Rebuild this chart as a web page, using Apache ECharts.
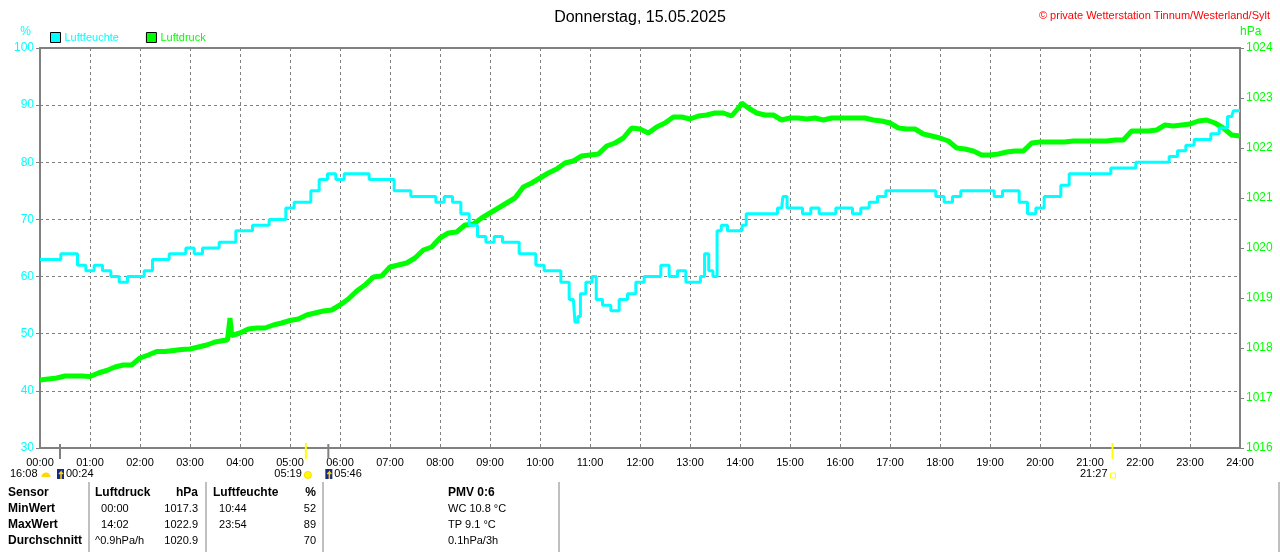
<!DOCTYPE html>
<html lang="de">
<head>
    <meta charset="UTF-8">
    <title>Luftfeuchte / Luftdruck 15.05.2025</title>
    <style>
        html, body { margin: 0; padding: 0; background: #fff; }
        #chart { width: 1280px; height: 552px; }
    </style>
</head>
<body>
<div id="chart"></div>

<script src="https://cdn.jsdelivr.net/npm/echarts@6/dist/echarts.min.js"></script>
<script>
    // Luftfeuchte (%)
    var humTimes = [
        '00:00','00:10','00:20','00:30','00:40','00:50','01:00','01:10','01:20','01:30','01:40','01:50',
        '02:00','02:10','02:20','02:30','02:40','02:50','03:00','03:10','03:20','03:30','03:40','03:50',
        '04:00','04:10','04:20','04:30','04:40','04:50','05:00','05:10','05:20','05:30','05:40','05:50',
        '06:00','06:10','06:20','06:30','06:40','06:50','07:00','07:10','07:20','07:30','07:40','07:50',
        '08:00','08:10','08:20','08:30','08:40','08:50','09:00','09:10','09:20','09:30','09:40','09:50',
        '10:00','10:10','10:20','10:30','10:40','10:44','10:47','10:50','11:00','11:05','11:10','11:20',
        '11:30','11:40','11:50','12:00','12:10','12:20','12:30','12:40','12:50','13:00','13:10','13:15',
        '13:20','13:25','13:30','13:35','13:40','13:50','14:00','14:05','14:10','14:20','14:30','14:40',
        '14:50','14:53','15:00','15:10','15:20','15:30','15:40','15:50','16:00','16:10','16:20','16:30',
        '16:40','16:50','17:00','17:10','17:20','17:30','17:40','17:50','18:00','18:10','18:20','18:30',
        '18:40','18:50','19:00','19:10','19:20','19:30','19:40','19:50','20:00','20:10','20:20','20:30',
        '20:40','20:50','21:00','21:10','21:20','21:30','21:40','21:50','22:00','22:10','22:20','22:30',
        '22:40','22:50','23:00','23:10','23:20','23:30','23:40','23:50','23:54','24:00'
    ];
    var humValues = [
        63, 63, 63, 64, 64, 62, 61, 62, 61, 60, 59, 60,
        60, 61, 63, 63, 64, 64, 65, 64, 65, 65, 66, 66,
        68, 68, 69, 69, 70, 70, 72, 73, 73, 75, 77, 78,
        77, 78, 78, 78, 77, 77, 77, 75, 75, 74, 74, 74,
        73, 74, 73, 71, 69, 67, 66, 67, 66, 66, 64, 64,
        62, 61, 61, 59, 56, 52, 53, 57, 59, 60, 56, 55,
        54, 56, 57, 59, 60, 60, 62, 60, 61, 59, 59, 60,
        64, 61, 60, 68, 69, 68, 68, 69, 71, 71, 71, 71,
        72, 74, 72, 72, 71, 72, 71, 71, 72, 72, 71, 72,
        73, 74, 75, 75, 75, 75, 75, 75, 74, 73, 74, 75,
        75, 75, 75, 74, 75, 75, 73, 71, 72, 74, 74, 76,
        78, 78, 78, 78, 78, 79, 79, 79, 80, 80, 80, 80,
        81, 82, 83, 84, 84, 85, 86, 88, 89, 89
    ];

    // Luftdruck (hPa)
    var presTimes = [
        '00:00','00:10','00:20','00:30','00:40','00:50','01:00','01:10','01:20','01:30','01:40','01:50',
        '02:00','02:10','02:20','02:30','02:40','02:50','03:00','03:10','03:20','03:30','03:40','03:45',
        '03:48','03:50','04:00','04:10','04:20','04:30','04:40','04:50','05:00','05:10','05:20','05:30',
        '05:40','05:50','06:00','06:10','06:20','06:30','06:40','06:50','07:00','07:10','07:20','07:30',
        '07:40','07:50','08:00','08:10','08:20','08:30','08:40','08:50','09:00','09:10','09:20','09:30',
        '09:40','09:50','10:00','10:10','10:20','10:30','10:40','10:50','11:00','11:10','11:20','11:30',
        '11:40','11:50','12:00','12:10','12:20','12:30','12:40','12:50','13:00','13:10','13:20','13:30',
        '13:40','13:50','14:00','14:02','14:10','14:20','14:30','14:40','14:50','15:00','15:10','15:20',
        '15:30','15:40','15:50','16:00','16:10','16:20','16:30','16:40','16:50','17:00','17:10','17:20',
        '17:30','17:40','17:50','18:00','18:10','18:20','18:30','18:40','18:50','19:00','19:10','19:20',
        '19:30','19:40','19:50','20:00','20:10','20:20','20:30','20:40','20:50','21:00','21:10','21:20',
        '21:30','21:40','21:50','22:00','22:10','22:20','22:30','22:40','22:50','23:00','23:10','23:20',
        '23:30','23:40','23:50','24:00'
    ];
    var presValues = [
        1017.36, 1017.38, 1017.40, 1017.44, 1017.44, 1017.44, 1017.43, 1017.50, 1017.55, 1017.62, 1017.66, 1017.66,
        1017.80, 1017.86, 1017.93, 1017.93, 1017.95, 1017.97, 1017.98, 1018.02, 1018.06, 1018.12, 1018.15, 1018.16,
        1018.60, 1018.25, 1018.30, 1018.38, 1018.40, 1018.40, 1018.46, 1018.50, 1018.55, 1018.58, 1018.66, 1018.70,
        1018.74, 1018.76, 1018.86, 1018.98, 1019.14, 1019.26, 1019.42, 1019.44, 1019.62, 1019.66, 1019.70, 1019.80,
        1019.96, 1020.02, 1020.20, 1020.30, 1020.32, 1020.46, 1020.48, 1020.60, 1020.70, 1020.80, 1020.90, 1021.00,
        1021.22, 1021.30, 1021.40, 1021.50, 1021.58, 1021.70, 1021.74, 1021.84, 1021.86, 1021.88, 1022.04, 1022.10,
        1022.20, 1022.40, 1022.38, 1022.30, 1022.42, 1022.50, 1022.62, 1022.62, 1022.58, 1022.64, 1022.66, 1022.70,
        1022.70, 1022.64, 1022.84, 1022.90, 1022.80, 1022.70, 1022.66, 1022.66, 1022.56, 1022.60, 1022.60, 1022.58,
        1022.60, 1022.56, 1022.60, 1022.60, 1022.60, 1022.60, 1022.60, 1022.56, 1022.54, 1022.50, 1022.40, 1022.38,
        1022.38, 1022.28, 1022.24, 1022.20, 1022.14, 1022.00, 1021.98, 1021.94, 1021.86, 1021.86, 1021.88, 1021.92,
        1021.94, 1021.94, 1022.10, 1022.12, 1022.12, 1022.12, 1022.12, 1022.14, 1022.14, 1022.14, 1022.14, 1022.14,
        1022.16, 1022.16, 1022.34, 1022.34, 1022.34, 1022.36, 1022.46, 1022.44, 1022.46, 1022.48, 1022.54, 1022.56,
        1022.50, 1022.40, 1022.26, 1022.24
    ];

    // Sonne / Mond unter der Zeitachse
    var sunTimes = ['05:19', '21:27'];
    var moonTimes = ['00:24', '05:46'];

    // Tabelle unten
    var tableRows = [
        ['Sensor', 'Luftdruck', 'hPa', 'Luftfeuchte', '%', 'PMV 0:6'],
        ['MinWert', '  00:00', '1017.3', '  10:44', '52', 'WC 10.8 °C'],
        ['MaxWert', '  14:02', '1022.9', '  23:54', '89', 'TP 9.1 °C'],
        ['Durchschnitt', '^0.9hPa/h', '1020.9', '', '70', '0.1hPa/3h']
    ];

    var CYAN = '#00ffff';
    var GREEN = '#00ff00';
    var GRAY = '#808080';
    var FONT = 'Liberation Sans, Arial, sans-serif';

    function toMin(t) {
        var p = t.split(':');
        return parseInt(p[0], 10) * 60 + parseInt(p[1], 10);
    }

    function pairs(times, values) {
        return times.map(function (t, i) {
            return [toMin(t), values[i]];
        });
    }

    var chart = echarts.init(document.getElementById('chart'));

    var option = {
        animation: false,
        backgroundColor: '#fff',
        textStyle: { fontFamily: FONT },
        title: [
            {
                text: 'Donnerstag, 15.05.2025',
                left: 'center',
                top: 5,
                textStyle: { fontSize: 16, fontWeight: 'normal', color: '#000', fontFamily: FONT }
            },
            {
                text: '© private Wetterstation Tinnum/Westerland/Sylt',
                right: 5,
                top: 5,
                textStyle: { fontSize: 11, fontWeight: 'normal', color: '#ff0000', fontFamily: FONT }
            }
        ],
        legend: {
            left: 50,
            top: 32,
            padding: 0,
            icon: 'rect',
            itemWidth: 10,
            itemHeight: 10,
            itemGap: 27,
            itemStyle: { borderColor: '#000', borderWidth: 1 },
            textStyle: { fontSize: 11, fontFamily: FONT, padding: [0, 0, 0, -1] },
            data: [
                { name: 'Luftfeuchte', textStyle: { color: CYAN } },
                { name: 'Luftdruck', textStyle: { color: GREEN } }
            ]
        },
        grid: {
            left: 40,
            right: 40,
            top: 48,
            bottom: 104,
            show: true,
            borderColor: GRAY,
            borderWidth: 2
        },
        xAxis: {
            type: 'value',
            min: 0,
            max: 1440,
            interval: 60,
            axisLine: { lineStyle: { color: GRAY, width: 2 } },
            axisTick: { show: false },
            axisLabel: {
                color: '#000',
                fontSize: 11,
                margin: 9,
                fontFamily: FONT,
                formatter: function (v) {
                    var h = Math.round(v / 60);
                    return (h < 10 ? '0' : '') + h + ':00';
                }
            },
            splitLine: { lineStyle: { color: GRAY, type: [3, 3], width: 1 } }
        },
        yAxis: [
            {
                type: 'value',
                min: 30,
                max: 100,
                interval: 10,
                name: '%',
                nameGap: 10,
                nameTextStyle: { color: CYAN, fontSize: 12, align: 'right', padding: [0, 9, 0, 0] },
                axisLine: { show: true, lineStyle: { color: GRAY, width: 2 } },
                axisTick: { show: true, length: 4, lineStyle: { color: GRAY } },
                axisLabel: { color: CYAN, fontSize: 12, margin: 6, fontFamily: FONT },
                splitLine: { lineStyle: { color: GRAY, type: [3, 3], width: 1 } }
            },
            {
                type: 'value',
                min: 1016,
                max: 1024,
                interval: 1,
                position: 'right',
                name: 'hPa',
                nameGap: 10,
                nameTextStyle: { color: GREEN, fontSize: 12, align: 'left', padding: [0, 0, 0, 0] },
                axisLine: { show: true, lineStyle: { color: GRAY, width: 2 } },
                axisTick: { show: true, length: 4, lineStyle: { color: GRAY } },
                axisLabel: {
                    color: GREEN,
                    fontSize: 12,
                    margin: 6,
                    fontFamily: FONT,
                    formatter: function (v) { return String(v); }
                },
                splitLine: { show: false }
            }
        ],
        series: [
            {
                name: 'Luftdruck',
                type: 'line',
                yAxisIndex: 1,
                showSymbol: false,
                color: GREEN,
                lineStyle: { color: GREEN, width: 5 },
                data: pairs(presTimes, presValues),
                z: 2
            },
            {
                name: 'Luftfeuchte',
                type: 'line',
                yAxisIndex: 0,
                step: 'middle',
                showSymbol: false,
                color: CYAN,
                lineStyle: { color: CYAN, width: 3 },
                data: pairs(humTimes, humValues),
                z: 3
            }
        ]
    };

    chart.setOption(option);

    // Markierungen unter der Zeitachse und Tabelle
    function px(t) {
        return chart.convertToPixel({ xAxisIndex: 0 }, toMin(t));
    }

    var yBottom = chart.convertToPixel({ yAxisIndex: 0 }, 30);
    var labelY = yBottom + 26;
    var elements = [];

    sunTimes.forEach(function (t) {
        elements.push({
            type: 'line',
            shape: { x1: px(t), y1: yBottom - 5, x2: px(t), y2: yBottom + 11 },
            style: { stroke: '#ffff00', lineWidth: 2 },
            z: 10
        });
    });
    moonTimes.forEach(function (t) {
        elements.push({
            type: 'line',
            shape: { x1: px(t), y1: yBottom - 4, x2: px(t), y2: yBottom + 11 },
            style: { stroke: GRAY, lineWidth: 2 },
            z: 10
        });
    });

    function moonIcon(x) {
        elements.push({
            type: 'rect',
            shape: { x: x, y: labelY - 5, width: 7, height: 10 },
            style: { fill: '#1a2a80' }
        });
        elements.push({
            type: 'polyline',
            shape: { points: [[x + 4, labelY + 5], [x + 4, labelY - 2], [x + 2, labelY], [x + 4, labelY - 2], [x + 6, labelY]] },
            style: { stroke: '#ffd800', lineWidth: 1.5, fill: null }
        });
    }

    function label(x, text, align) {
        elements.push({
            type: 'text',
            x: x,
            y: labelY,
            style: { text: text, fill: '#000', font: '11px ' + FONT, textAlign: align, textVerticalAlign: 'middle' }
        });
    }

    // 16:08 links, Ereignis vom Vortag
    label(10, '16:08', 'left');
    elements.push({
        type: 'sector',
        shape: { cx: 46, cy: labelY + 3, r0: 0, r: 4.5, startAngle: Math.PI, endAngle: Math.PI * 2 },
        style: { fill: '#ffd800' }
    });
    moonIcon(px(moonTimes[0]) - 3);
    label(px(moonTimes[0]) + 6, moonTimes[0], 'left');

    label(px(sunTimes[0]) - 4, sunTimes[0], 'right');
    elements.push({
        type: 'circle',
        shape: { cx: px(sunTimes[0]) + 2, cy: labelY + 1, r: 3.5 },
        style: { fill: '#ffff00', stroke: '#ffd800', lineWidth: 1 }
    });
    moonIcon(px(moonTimes[1]) - 3);
    label(px(moonTimes[1]) + 6, moonTimes[1], 'left');

    label(px(sunTimes[1]) - 5, sunTimes[1], 'right');
    elements.push({
        type: 'rect',
        shape: { x: px(sunTimes[1]) - 2, y: labelY - 1, width: 5, height: 5 },
        style: { fill: null, stroke: '#ffff00', lineWidth: 1 }
    });

    // Tabelle
    var rowY = [493, 509, 525, 541];
    var colX = [8, 95, 198, 213, 316, 448];
    var colAlign = ['left', 'left', 'right', 'left', 'right', 'left'];
    tableRows.forEach(function (row, r) {
        row.forEach(function (cell, c) {
            var bold = (r === 0 || c === 0);
            elements.push({
                type: 'text',
                x: colX[c],
                y: rowY[r],
                style: {
                    text: cell,
                    fill: '#000',
                    font: (bold ? 'bold 12px ' : '11px ') + FONT,
                    textAlign: colAlign[c],
                    textVerticalAlign: 'middle'
                }
            });
        });
    });
    [89, 206, 323, 559, 1279].forEach(function (x) {
        elements.push({
            type: 'line',
            shape: { x1: x, y1: 482, x2: x, y2: 552 },
            style: { stroke: GRAY, lineWidth: 1 }
        });
    });

    chart.setOption({ graphic: elements });
</script>
</body>
</html>
